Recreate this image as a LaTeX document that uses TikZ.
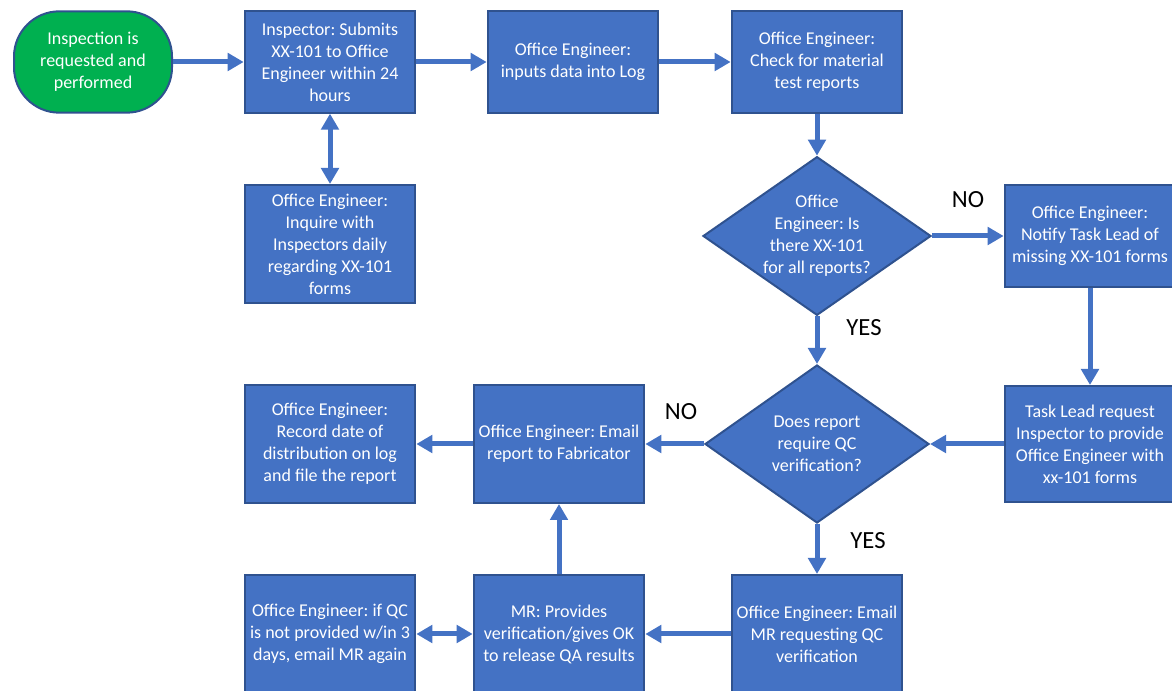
\documentclass[tikz,border=0pt]{standalone}
\usepackage{fontspec}
\setmainfont{Carlito}
\usepackage{tikz}
\usetikzlibrary{arrows.meta,shapes.geometric}
\definecolor{boxblue}{HTML}{4472C4}
\definecolor{edgeblue}{HTML}{2F528F}
\definecolor{startgreen}{HTML}{00B050}
\frenchspacing

\begin{document}
\begin{tikzpicture}[x=0.75pt, y=-0.75pt,
	every node/.style={font=\fontsize{13.5}{16.5}\selectfont},
	proc/.style={rectangle, fill=boxblue, draw=edgeblue, line width=1.5pt, text=white, align=center, inner sep=0pt, minimum width=128pt, minimum height=76pt},
	tall/.style={proc, minimum height=88.5pt},
	startbox/.style={proc, fill=startgreen, rounded corners=34pt, minimum width=118.5pt},
	decide/.style={diamond, fill=boxblue, draw=edgeblue, line width=1.5pt, text=white, align=center, inner xsep=-30pt, inner ysep=-20pt},
	flow/.style={draw=boxblue, line width=3.75pt, -{Triangle[length=12pt,width=13pt]}},
	both/.style={flow, {Triangle[length=12pt,width=13pt]}-{Triangle[length=12pt,width=13pt]}},
	answer/.style={font=\fontsize{18.5}{22}\selectfont, text=black}]
	\useasboundingbox (0,0) rectangle (1172,691);
	\clip (0,0) rectangle (1172,691);
	% top row
	\node[startbox] (begin) at (93,62) {Inspection is\\requested and\\performed};
	\node[proc] (submit) at (330,62) {Inspector: Submits\\XX-101 to Office\\Engineer within 24\\hours};
	\node[proc] (logdata) at (573,62) {Office Engineer:\\inputs data into Log};
	\node[proc] (material) at (817,62) {Office Engineer:\\Check for material\\test reports};
	\node[tall] (inquire) at (330,244) {Office Engineer:\\Inquire with\\Inspectors daily\\regarding XX-101\\forms};
	% decisions
	\node[decide, minimum width=171pt, minimum height=119pt] (check) at (817,236) {Office\\Engineer: Is\\there XX-101\\for all reports?};
	\node[proc, minimum height=76.5pt] (notify) at (1090,236) {Office Engineer:\\Notify Task Lead of\\missing XX-101 forms};
	\node[proc, minimum height=87pt] (request) at (1090,444) {Task Lead request\\Inspector to provide\\Office Engineer with\\xx-101 forms};
	\node[decide, minimum width=168pt, minimum height=118.5pt] (verify) at (817,444) {Does report\\require QC\\verification?};
	\node[tall] (fabricator) at (559,444) {Office Engineer: Email\\report to Fabricator};
	\node[tall] (record) at (330,444) {Office Engineer:\\Record date of\\distribution on log\\and file the report};
	% bottom row
	\node[tall] (emailmr) at (817,634) {Office Engineer: Email\\MR requesting QC\\verification};
	\node[tall] (provides) at (559,634) {MR: Provides\\verification/gives OK\\to release QA results};
	\node[tall] (remind) at (330,634) {Office Engineer: if QC\\is not provided w/in 3\\days, email MR again};
	% answers
	\node[answer] (no1) at (968,200) {NO};
	\node[answer] (yes1) at (864,328) {YES};
	\node[answer] (no2) at (681,412) {NO};
	\node[answer] (yes2) at (868,541) {YES};
	% connectors
	\foreach \a/\b in {begin/submit,submit/logdata,logdata/material,material/check,check/notify,check/verify,notify/request,request/verify,verify/fabricator,fabricator/record,verify/emailmr,emailmr/provides,provides/fabricator}
	\draw[flow] (\a) -- (\b);
	\draw[both] (submit) -- (inquire);
	\draw[both] (remind) -- (provides);
\end{tikzpicture}
\end{document}
